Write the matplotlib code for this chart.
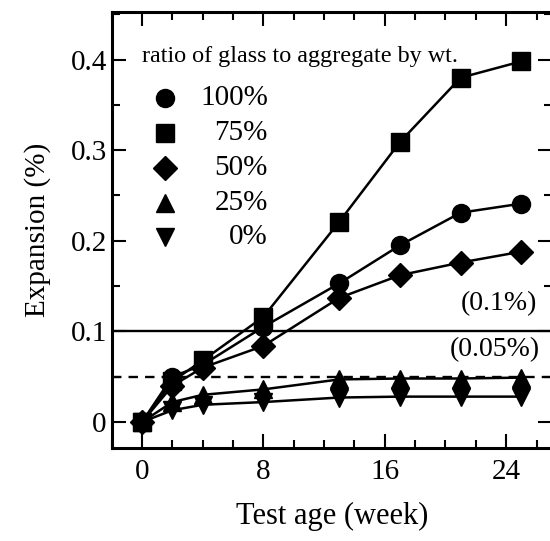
import matplotlib
matplotlib.use('Agg')
import matplotlib.pyplot as plt
from matplotlib.ticker import MultipleLocator, FuncFormatter

plt.rcParams['font.family'] = ['Liberation Serif', 'DejaVu Serif']

# Test age (week)
weeks = [0, 2, 4, 8, 13, 17, 21, 25]

# Expansion (%) by ratio of glass to aggregate
exp_100 = [0.0, 0.050, 0.063, 0.105, 0.153, 0.195, 0.231, 0.241]
exp_75 = [0.0, 0.045, 0.068, 0.116, 0.221, 0.309, 0.380, 0.398]
exp_50 = [0.0, 0.040, 0.060, 0.084, 0.137, 0.162, 0.176, 0.188]
exp_25 = [0.0, 0.022, 0.030, 0.036, 0.047, 0.048, 0.048, 0.049]
exp_0 = [0.0, 0.013, 0.019, 0.022, 0.027, 0.028, 0.028, 0.028]

series = [
    (exp_100, 'o', 13),
    (exp_75, 's', 12.5),
    (exp_50, 'D', 12),
    (exp_25, '^', 13),
    (exp_0, 'v', 13),
]
labels = ['100%', '75%', '50%', '25%', '0%']

limit_high = 0.1
limit_low = 0.05

fig = plt.figure(figsize=(5.5, 5.41), dpi=100)
ax = fig.add_axes([111.7 / 550, 93 / 541, 440 / 550, 436 / 541])

ax.axhline(limit_high, color='black', lw=1.7)
ax.axhline(limit_low, color='black', lw=1.7, ls=(0, (4, 3)))

for vals, mk, ms in series:
    ax.plot(weeks, vals, color='black', lw=1.8, marker=mk, ms=ms,
            markerfacecolor='black', markeredgecolor='black')

ax.text(26.05, 0.131, '(0.1%)', ha='right', va='center', fontsize=20)
ax.text(26.2, 0.0795, '(0.05%)', ha='right', va='center', fontsize=20)

# legend drawn by hand to get right-aligned labels
ax.text(0.069, 0.897, 'ratio of glass to aggregate by wt.', transform=ax.transAxes,
        fontsize=17.4, ha='left', va='center')
for i, (vals, mk, ms) in enumerate(series):
    y = 0.803 - i * 0.08
    ax.plot([0.12], [y], transform=ax.transAxes, marker=mk, ms=ms,
            color='black', ls='none')
    ax.text(0.355, y, labels[i], transform=ax.transAxes, fontsize=21,
            ha='right', va='center')

ax.set_xlim(-2.0, 27.0)
ax.set_ylim(-0.0287, 0.4525)
ax.xaxis.set_major_locator(MultipleLocator(8))
ax.xaxis.set_minor_locator(MultipleLocator(2))
ax.yaxis.set_major_locator(MultipleLocator(0.1))
ax.yaxis.set_minor_locator(MultipleLocator(0.05))
ax.yaxis.set_major_formatter(FuncFormatter(lambda v, p: '0' if abs(v) < 1e-9 else f'{v:.1f}'))

ax.tick_params(which='both', direction='in', top=True, right=True,
               width=1.5, labelsize=21)
ax.tick_params(which='major', length=10)
ax.tick_params(which='minor', length=6)
ax.tick_params(axis='x', pad=8)
for sp in ax.spines.values():
    sp.set_linewidth(2.2)

ax.set_xlabel('Test age (week)', fontsize=22, labelpad=12)
ax.set_ylabel('Expansion (%)', fontsize=21, labelpad=14)

fig.savefig('out.png', dpi=100)
